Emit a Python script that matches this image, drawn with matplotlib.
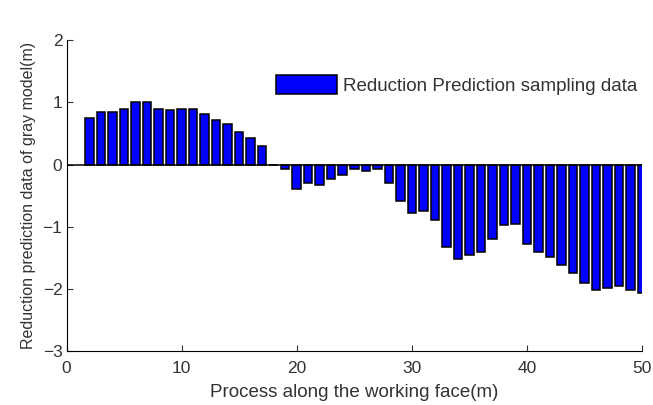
import matplotlib.pyplot as plt

plt.rcParams['font.family'] = ['Liberation Sans', 'DejaVu Sans']

# position along the working face (m) and reduction prediction (m)
position = list(range(2, 51))
reduction = [0.74, 0.85, 0.85, 0.90, 1.00, 1.00, 0.90, 0.88, 0.90, 0.90,
             0.81, 0.72, 0.65, 0.53, 0.42, 0.29, 0.0,
             -0.07, -0.39, -0.30, -0.33, -0.23, -0.17, -0.07, -0.11, -0.07,
             -0.30, -0.59, -0.78, -0.75, -0.89, -1.33, -1.52, -1.46, -1.40,
             -1.20, -0.98, -0.95, -1.27, -1.40, -1.49, -1.62, -1.75, -1.91,
             -2.01, -1.98, -1.95, -2.01, -2.07]

fig = plt.figure(figsize=(6.53, 4.05), dpi=100)
ax = fig.add_axes([0.102, 0.133, 0.881, 0.768])

ax.bar(position, reduction, width=0.74, color='#0000ff', edgecolor='black',
       linewidth=1.1, label='Reduction Prediction sampling data', zorder=2)
ax.axhline(0, color='black', linewidth=1.1, zorder=3)

ax.set_xlim(0, 50)
ax.set_ylim(-3, 2)
ax.set_xticks([0, 10, 20, 30, 40, 50])
ax.set_yticks([-3, -2, -1, 0, 1, 2])
ax.spines['top'].set_visible(False)
ax.spines['right'].set_visible(False)
ax.tick_params(direction='in', length=4, labelsize=12.5, colors='#333333')
ax.tick_params(axis='x', pad=7)
ax.tick_params(axis='y', pad=3)

ax.set_xlabel('Process along the working face(m)', fontsize=13.5, color='#333333', labelpad=6)
ax.set_ylabel('Reduction prediction data of gray model(m)', fontsize=11.5, color='#333333', labelpad=5)

ax.legend(loc='center left', bbox_to_anchor=(0.364, 0.857), frameon=False, fontsize=13.5,
          borderpad=0, borderaxespad=0, handlelength=3.25, handleheight=1.23,
          handletextpad=0.32, labelcolor='#333333')

plt.savefig('out.png', dpi=100)
